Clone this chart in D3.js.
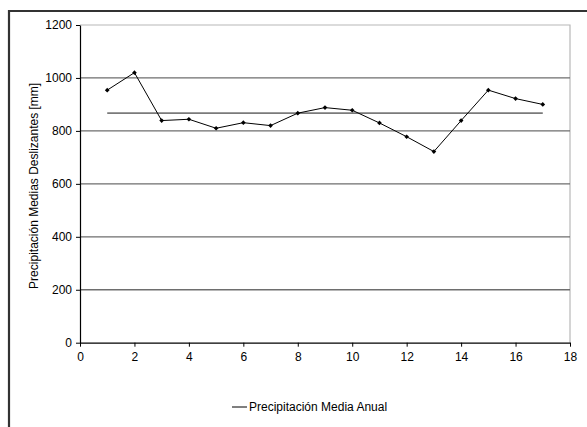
<!DOCTYPE html>
<html>
<head>
<meta charset="utf-8">
<script src="https://cdn.jsdelivr.net/npm/d3@7"></script>
<style>
  html, body { margin: 0; padding: 0; background: #fff; }
  svg { display: block; }
  text { font-family: "Liberation Sans", Arial, sans-serif; fill: #000; }
</style>
</head>
<body>
<svg id="chart" width="587" height="427"></svg>
<script>
// Running mean precipitation per position
const positions = [1, 2, 3, 4, 5, 6, 7, 8, 9, 10, 11, 12, 13, 14, 15, 16, 17];
const movingMeans = [954, 1020, 839, 844, 810, 831, 820, 867, 888, 878, 830, 778, 722, 839, 954, 922, 900];
// Long-term annual mean, drawn as a horizontal reference
const annualMean = 867;
const xTicks = [0, 2, 4, 6, 8, 10, 12, 14, 16, 18];
const yTicks = [0, 200, 400, 600, 800, 1000, 1200];
const yTitle = "Precipitación Medias Deslizantes [mm]";
const legendLabel = "Precipitación Media Anual";

const svg = d3.select("#chart");

const plot = { left: 80, right: 570, top: 25, bottom: 342.7 };
const fontSize = "12px";

const x = d3.scaleLinear().domain([0, 18]).range([plot.left, plot.right]);
const y = d3.scaleLinear().domain([0, 1200]).range([plot.bottom, plot.top]);

// Outer frame (left and top edges visible)
svg.append("path")
  .attr("d", `M9,427 L9,11 L587,11`)
  .attr("fill", "none")
  .attr("stroke", "#333")
  .attr("stroke-width", 2.2);

// Plot area border on top and right
svg.append("path")
  .attr("d", `M${plot.left},${plot.top} L${plot.right},${plot.top} L${plot.right},${plot.bottom}`)
  .attr("fill", "none")
  .attr("stroke", "#b8b8b8")
  .attr("stroke-width", 1.2);

// Horizontal gridlines
svg.append("g")
  .selectAll("line")
  .data(yTicks.filter(d => d > 0 && d < 1200))
  .join("line")
  .attr("x1", plot.left)
  .attr("x2", plot.right)
  .attr("y1", d => y(d))
  .attr("y2", d => y(d))
  .attr("stroke", "#6e6e6e")
  .attr("stroke-width", 1.3);

// Y axis
const yAxis = svg.append("g")
  .attr("transform", `translate(${plot.left},0)`)
  .call(d3.axisLeft(y).tickValues(yTicks).tickFormat(d3.format("d"))
    .tickSize(4).tickSizeOuter(0).tickPadding(4));
yAxis.select(".domain").attr("stroke", "#000").attr("stroke-width", 1.2);
yAxis.selectAll(".tick line").attr("stroke", "#000");
yAxis.selectAll("text")
  .style("font-family", "'Liberation Sans', Arial, sans-serif")
  .style("font-size", fontSize);

// X axis
const xAxis = svg.append("g")
  .attr("transform", `translate(0,${plot.bottom})`)
  .call(d3.axisBottom(x).tickValues(xTicks).tickFormat(d3.format("d"))
    .tickSize(4).tickSizeOuter(0).tickPadding(6));
xAxis.select(".domain").attr("stroke", "#000").attr("stroke-width", 1.2);
xAxis.selectAll(".tick line").attr("stroke", "#000");
xAxis.selectAll("text")
  .style("font-family", "'Liberation Sans', Arial, sans-serif")
  .style("font-size", fontSize);

// Annual mean reference line
svg.append("line")
  .attr("x1", x(positions[0]))
  .attr("x2", x(positions[positions.length - 1]))
  .attr("y1", y(annualMean))
  .attr("y2", y(annualMean))
  .attr("stroke", "#7a7a7a")
  .attr("stroke-width", 1.8);

// Running mean series
const series = positions.map((p, i) => ({ x: p, y: movingMeans[i] }));
svg.append("path")
  .datum(series)
  .attr("fill", "none")
  .attr("stroke", "#000")
  .attr("stroke-width", 1)
  .attr("d", d3.line().x(d => x(d.x)).y(d => y(d.y)));

// Small diamond markers (square rotated 45°)
svg.append("g")
  .selectAll("path")
  .data(series)
  .join("path")
  .attr("transform", d => `translate(${x(d.x)},${y(d.y)}) rotate(45)`)
  .attr("d", d3.symbol(d3.symbolSquare, 11)())
  .attr("fill", "#000");

// Y axis title
svg.append("text")
  .attr("transform", `translate(38,${(plot.top + plot.bottom) / 2 + 2}) rotate(-90)`)
  .attr("text-anchor", "middle")
  .style("font-size", fontSize)
  .text(yTitle);

// Legend
const legend = svg.append("g").attr("transform", "translate(232,407)");
legend.append("line")
  .attr("x1", 0).attr("x2", 15)
  .attr("y1", 0).attr("y2", 0)
  .attr("stroke", "#000")
  .attr("stroke-width", 1);
legend.append("text")
  .attr("x", 17)
  .attr("y", 4)
  .style("font-size", fontSize)
  .text(legendLabel);
</script>
</body>
</html>
